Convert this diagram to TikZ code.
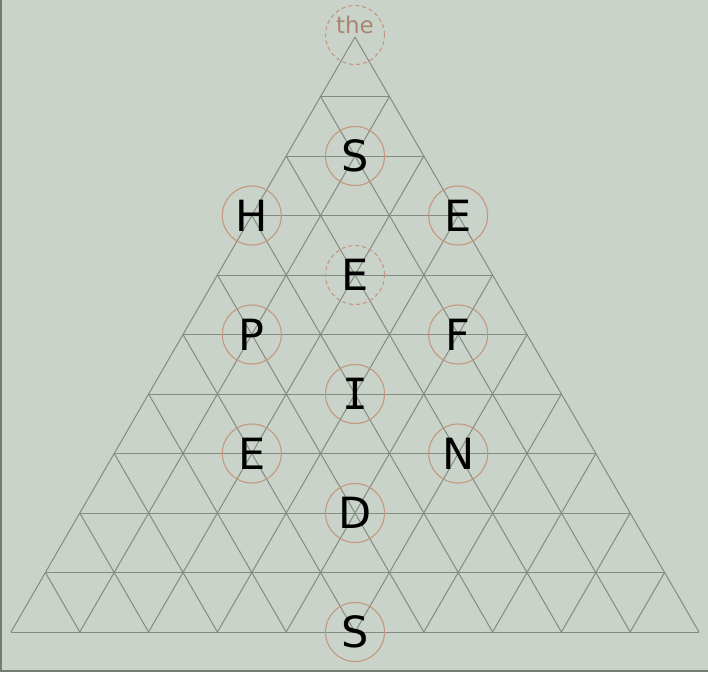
\documentclass[tikz,border=0pt]{standalone}
\usepackage{fontspec}
\setmainfont{DejaVu Sans}
\newfontfamily\monof{DejaVu Sans Mono}
\definecolor{bg}{RGB}{201,211,201}
\definecolor{gridc}{RGB}{130,140,130}
\definecolor{ringc}{RGB}{196,152,126}
\definecolor{thec}{RGB}{170,132,112}
\definecolor{edgec}{RGB}{115,125,115}
\begin{document}
\begin{tikzpicture}[x=1pt,y=-1pt,
  ring/.style={circle,draw=ringc,line width=1.1pt,minimum size=59pt,inner sep=0pt,
    font=\fontsize{43}{43}\selectfont,text=black},
  dashring/.style={ring,dash pattern=on 4pt off 3pt},
  gridline/.style={draw=gridc,line width=1pt},
  smalltext/.style={text=thec,font=\fontsize{23}{23}\selectfont,inner sep=0pt}]
\fill[bg] (0,0) rectangle (708,672);
\useasboundingbox (0,0) rectangle (708,672);
\draw[edgec,line width=2pt] (1,0) -- (1,671) -- (708,671);
% triangular grid
\foreach \k in {1,...,10}
  \draw[gridline] ({355-34.4*\k},{37+59.5*\k}) -- ({355+34.4*\k},{37+59.5*\k});
\foreach \j in {0,...,9} {
  \draw[gridline] ({11+68.8*\j},632) -- ({355+34.4*\j},{37+59.5*\j});
  \draw[gridline] ({699-68.8*\j},632) -- ({355-34.4*\j},{37+59.5*\j});
}
% rings
\node[dashring] (apex) at (355,35) {};
\node[smalltext] (the) at ([yshift=10pt]apex.center) {the};
\node[ring] (s1) at (355,156) {S};
\node[ring] (h) at (251.8,215.5) {H};
\node[ring] (e1) at (458.2,215.5) {E};
\node[dashring] (e2) at (355,275) {E};
\node[ring] (p) at (251.8,334.5) {P};
\node[ring] (f) at (458.2,334.5) {F};
\node[ring] (i) at (355,394) {\monof I};
\node[ring] (e3) at (251.8,453.5) {E};
\node[ring] (n) at (458.2,453.5) {N};
\node[ring] (d) at (355,513) {D};
\node[ring] (s2) at (355,632) {S};
\end{tikzpicture}
\end{document}
